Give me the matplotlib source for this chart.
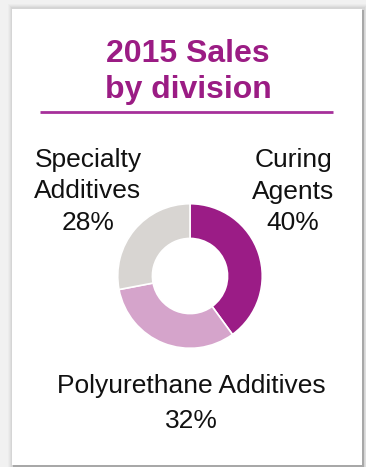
import matplotlib
matplotlib.use("Agg")
import matplotlib.pyplot as plt
from matplotlib.patches import Rectangle

plt.rcParams['font.family'] = ['Liberation Sans', 'DejaVu Sans']

# Sales share per division
divisions = ['Curing Agents', 'Polyurethane Additives', 'Specialty Additives']
shares = [40, 32, 28]
colors = ['#9B1C86', '#D5A4CB', '#D8D5D2']
title_lines = ['2015 Sales', 'by division']

W, H = 366, 467
fig = plt.figure(figsize=(W / 100, H / 100), dpi=100)
fig.patch.set_facecolor('#F1F1F1')

# background layer in pixel coordinates
bg = fig.add_axes([0, 0, 1, 1])
bg.set_xlim(0, W)
bg.set_ylim(H, 0)
bg.axis('off')

# soft card shadow
for i, a in enumerate([0.04, 0.05, 0.07, 0.09]):
    d = 5 - i
    bg.add_patch(Rectangle((12 - d + 1, 9 - d), 350 + 2 * d, 456 + 2 * d,
                           facecolor='#808080', alpha=a, edgecolor='none'))
bg.add_patch(Rectangle((13, 10), 351, 457, facecolor='#A8A8A8', edgecolor='none'))
bg.add_patch(Rectangle((12, 9), 350, 456, facecolor='white', edgecolor='none'))

# title and rule
purple = '#9B1C84'
for k, line in enumerate(title_lines):
    bg.text(188, 62 + k * 36, line, ha='center', va='baseline',
            fontsize=23, fontweight='bold', color=purple)
bg.plot([40, 333], [112, 112], color='#A6309A', lw=2, solid_capstyle='butt')

# donut
cx, cy, r = 190, 276, 73
pax = fig.add_axes([(cx - r) / W, 1 - (cy + r) / H, 2 * r / W, 2 * r / H])
pax.pie(shares, colors=colors, startangle=90, counterclock=False, radius=1,
        wedgeprops=dict(width=0.48, edgecolor='white', linewidth=1.2))
pax.set_xlim(-1.01, 1.01)
pax.set_ylim(-1.01, 1.01)
pax.axis('off')

# category labels with shares
label_pos = {
    'Curing Agents': (293, 167),
    'Specialty Additives': (88, 167),
    'Polyurethane Additives': (191, 393),
}
for name, pct in zip(divisions, shares):
    x, y = label_pos[name]
    if name == 'Polyurethane Additives':
        lines = [name, f'{pct}%']
        step = 35
    else:
        lines = name.split(' ') + [f'{pct}%']
        step = 31.5
    for k, line in enumerate(lines):
        bg.text(x, y + k * step, line, ha='center', va='baseline',
                fontsize=19, color='#111111')

fig.savefig('out.png', dpi=100, facecolor=fig.get_facecolor())
